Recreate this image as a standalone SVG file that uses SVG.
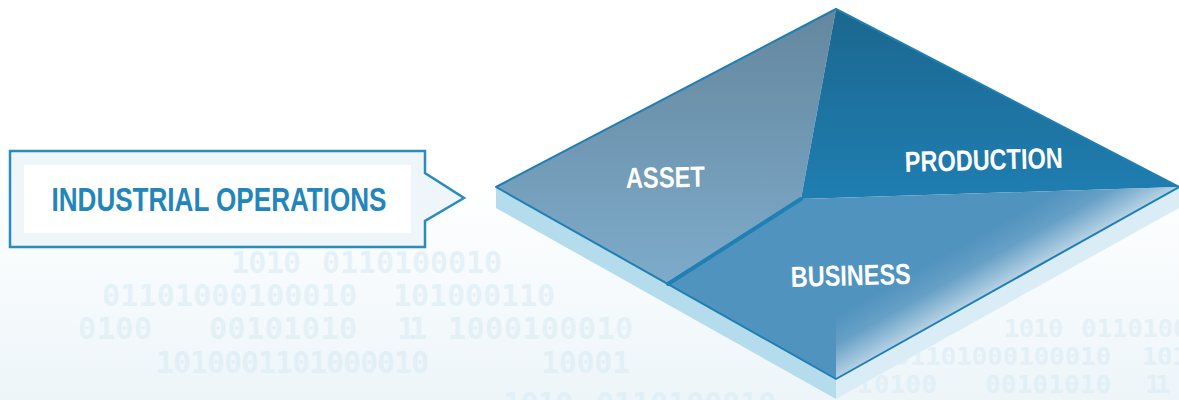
<svg xmlns="http://www.w3.org/2000/svg" width="1179" height="400" viewBox="0 0 1179 400">
  <defs>
    <linearGradient id="bg" x1="0" y1="0" x2="0" y2="400" gradientUnits="userSpaceOnUse">
      <stop offset="0" stop-color="#ffffff"/>
      <stop offset="0.45" stop-color="#ffffff"/>
      <stop offset="1" stop-color="#edf5f9"/>
    </linearGradient>
    <linearGradient id="gAsset" x1="0" y1="9" x2="0" y2="285" gradientUnits="userSpaceOnUse">
      <stop offset="0" stop-color="#64879e"/>
      <stop offset="1" stop-color="#7eabcb"/>
    </linearGradient>
    <linearGradient id="gProd" x1="0" y1="9" x2="0" y2="200" gradientUnits="userSpaceOnUse">
      <stop offset="0" stop-color="#1b678f"/>
      <stop offset="1" stop-color="#1f7eb1"/>
    </linearGradient>
    <linearGradient id="gHi" x1="980" y1="235" x2="1007" y2="283" gradientUnits="userSpaceOnUse">
      <stop offset="0" stop-color="#ffffff" stop-opacity="0"/>
      <stop offset="0.45" stop-color="#ffffff" stop-opacity="0.12"/>
      <stop offset="1" stop-color="#ffffff" stop-opacity="0.58"/>
    </linearGradient>
  </defs>
  <style>
    .bin { font-family: "DejaVu Sans Mono", "Liberation Mono", monospace; font-weight: bold; font-size: 30px; fill: #d9ebf4; fill-opacity: 0.6; }
    .lbl { font-family: "Liberation Sans", Arial, sans-serif; font-weight: bold; font-size: 29px; fill: #ffffff; }
    .call { font-family: "Liberation Sans", Arial, sans-serif; font-weight: bold; font-size: 33px; fill: #2386ba; }
    .edge { fill: none; stroke: #1f7fb2; stroke-width: 2; stroke-linejoin: round; }
  </style>

  <rect x="0" y="0" width="1179" height="400" fill="url(#bg)"/>

  <g id="binary-left">
    <text class="bin" x="231" y="273" textLength="70" lengthAdjust="spacing">1010</text>
    <text class="bin" x="322" y="273" textLength="180" lengthAdjust="spacing">0110100010</text>
    <text class="bin" x="102" y="306" textLength="255" lengthAdjust="spacing">01101000100010</text>
    <text class="bin" x="393" y="306" textLength="162" lengthAdjust="spacing">101000110</text>
    <text class="bin" x="78" y="339" textLength="74" lengthAdjust="spacing">0100</text>
    <text class="bin" x="209" y="339" textLength="148" lengthAdjust="spacing">00101010</text>
    <text class="bin" x="397" y="339" textLength="30" lengthAdjust="spacing">11</text>
    <text class="bin" x="448" y="339" textLength="185" lengthAdjust="spacing">1000100010</text>
    <text class="bin" x="156" y="373" textLength="273" lengthAdjust="spacing">1010001101000010</text>
    <text class="bin" x="541" y="373" textLength="89" lengthAdjust="spacing">10001</text>
    <text class="bin" x="503" y="414" textLength="70" lengthAdjust="spacing">1010</text>
    <text class="bin" x="596" y="414" textLength="180" lengthAdjust="spacing">0110100010</text>
  </g>
  <g id="binary-right" transform="matrix(0.85 0 0 0.85 807.6 105)">
    <text class="bin" x="231" y="273" textLength="70" lengthAdjust="spacing">1010</text>
    <text class="bin" x="322" y="273" textLength="180" lengthAdjust="spacing">0110100010</text>
    <text class="bin" x="102" y="306" textLength="255" lengthAdjust="spacing">01101000100010</text>
    <text class="bin" x="393" y="306" textLength="162" lengthAdjust="spacing">101000110</text>
    <text class="bin" x="58" y="339">1</text>
    <text class="bin" x="78" y="339" textLength="74" lengthAdjust="spacing">0100</text>
    <text class="bin" x="209" y="339" textLength="148" lengthAdjust="spacing">00101010</text>
    <text class="bin" x="397" y="339" textLength="30" lengthAdjust="spacing">11</text>
  </g>

  <g id="industrial-operations">
    <path d="M10,151 H425 V173 L464,198 L425,221 V247 H10 Z" fill="#eef6fa" stroke="#2b8bbd" stroke-width="2.5" stroke-linejoin="miter"/>
    <rect x="24" y="165" width="387" height="68" fill="#ffffff"/>
    <text class="call" x="51.5" y="211" textLength="335" lengthAdjust="spacingAndGlyphs">INDUSTRIAL OPERATIONS</text>
  </g>

  <g id="slab">
    <polygon points="496,187 836,379 836,399 496,208" fill="#b5dcec"/>
    <polygon points="836,379 1179,187 1179,208 836,399" fill="#daedf7"/>
  </g>

  <g id="asset">
    <polygon points="836,9 801,199 668,284 496,187" fill="url(#gAsset)"/>
    <text class="lbl" x="626" y="188" textLength="79" lengthAdjust="spacingAndGlyphs" transform="rotate(-1 626 188)">ASSET</text>
  </g>

  <g id="production">
    <polygon points="836,9 1179,187 801,199" fill="url(#gProd)"/>
    <text class="lbl" x="905" y="172" textLength="158" lengthAdjust="spacingAndGlyphs" transform="rotate(-1.5 905 172)">PRODUCTION</text>
  </g>

  <g id="business">
    <polygon points="801,199 1179,187 836,379 668,284" fill="#5193bf"/>
    <polygon points="836,198 1179,187 836,379" fill="url(#gHi)"/>
    <text class="lbl" x="791" y="287" textLength="120" lengthAdjust="spacingAndGlyphs" transform="rotate(-1.5 791 287)">BUSINESS</text>
  </g>

  <g id="connectors">
    <line x1="801" y1="199" x2="668" y2="284" stroke="#1e80b4" stroke-width="4" stroke-linecap="round"/>
    <polygon class="edge" points="836,9 1179,187 836,379 496,187"/>
  </g>
</svg>
